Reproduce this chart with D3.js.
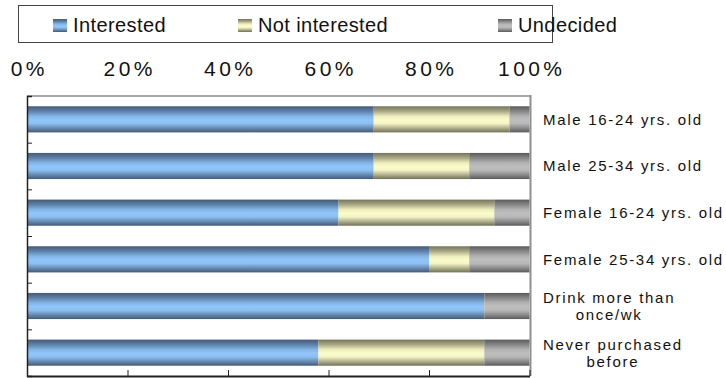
<!DOCTYPE html>
<html>
<head>
<meta charset="utf-8">
<script src="https://cdn.jsdelivr.net/npm/d3@7"></script>
<style>
  html, body { margin: 0; padding: 0; background: #fff; }
  svg { display: block; font-family: "Liberation Sans", Arial, sans-serif; }
</style>
</head>
<body>
<svg id="chart" width="726" height="378"></svg>
<script>
// Survey answers by group (percent of respondents)
const categories = [
  "Male 16-24 yrs. old",
  "Male 25-34 yrs. old",
  "Female 16-24 yrs. old",
  "Female 25-34 yrs. old",
  "Drink more than\nonce/wk",
  "Never purchased\nbefore"
];
const interested    = [69, 69, 62, 80, 91, 58];
const notInterested = [27, 19, 31,  8,  0, 33];
const undecided     = [ 4, 12,  7, 12,  9,  9];
const seriesNames = ["Interested", "Not interested", "Undecided"];
const tickValues = [0, 20, 40, 60, 80, 100];

const svg = d3.select("#chart");

// Shaded "cylinder" fills for each series
const gradients = [
  { id: "g-int", stops: [["0%", "#455b76"], ["18%", "#5c7ea6"], ["38%", "#82b4e6"], ["52%", "#91c6fa"], ["66%", "#8cc0f3"], ["84%", "#6689b0"], ["100%", "#455a74"]] },
  { id: "g-not", stops: [["0%", "#74745a"], ["18%", "#a5a584"], ["38%", "#ececbc"], ["52%", "#fcfccb"], ["66%", "#f4f4c4"], ["84%", "#aeae8c"], ["100%", "#707058"]] },
  { id: "g-und", stops: [["0%", "#5a5a5a"], ["18%", "#848484"], ["38%", "#b2b2b2"], ["52%", "#bebebe"], ["66%", "#b8b8b8"], ["84%", "#8a8a8a"], ["100%", "#5a5a5a"]] }
];
const defs = svg.append("defs");
gradients.forEach(g => {
  const lg = defs.append("linearGradient").attr("id", g.id)
    .attr("x1", 0).attr("y1", 0).attr("x2", 0).attr("y2", 1);
  g.stops.forEach(([o, c]) => lg.append("stop").attr("offset", o).attr("stop-color", c));
});
const fills = gradients.map(g => `url(#${g.id})`);

// Plot geometry
const plotLeft = 27, plotRight = 529.5, plotTop = 96, plotBottom = 376;
const x = d3.scaleLinear().domain([0, 100]).range([plotLeft, plotRight]);
const y = d3.scaleBand().domain(categories).range([plotTop, plotBottom])
  .paddingInner(0.44).paddingOuter(0.22);

// Stack the three series
const rows = categories.map((c, i) => ({
  cat: c, "Interested": interested[i], "Not interested": notInterested[i], "Undecided": undecided[i]
}));
const stacked = d3.stack().keys(seriesNames)(rows);

// Frame: light top and right edges
svg.append("line").attr("x1", plotLeft).attr("x2", plotRight + 1).attr("y1", plotTop).attr("y2", plotTop)
  .attr("stroke", "#a8a8a8").attr("stroke-width", 2);
svg.append("line").attr("x1", plotRight + 1).attr("x2", plotRight + 1).attr("y1", plotTop - 1).attr("y2", plotBottom)
  .attr("stroke", "#909090").attr("stroke-width", 2);

// Bars
stacked.forEach((s, si) => {
  svg.append("g").selectAll("rect").data(s.filter(d => d[1] > d[0])).join("rect")
    .attr("x", d => x(d[0]))
    .attr("width", d => x(d[1]) - x(d[0]))
    .attr("y", d => y(d.data.cat))
    .attr("height", y.bandwidth())
    .attr("fill", fills[si]);
});

// Left axis: ticks at the band boundaries, pointing inward
const yb = d3.scaleLinear().domain([0, categories.length]).range([plotTop, plotBottom]);
const leftAxis = svg.append("g").attr("transform", `translate(${plotLeft},0)`)
  .call(d3.axisRight(yb).tickValues(d3.range(0, categories.length + 1)).tickSize(5).tickFormat(""));
leftAxis.select(".domain").attr("stroke", "#222").attr("stroke-width", 1.5);
leftAxis.selectAll(".tick line").attr("stroke", "#222");

// Bottom axis: ticks pointing up, no labels
const bottomAxis = svg.append("g").attr("transform", `translate(0,${plotBottom})`)
  .call(d3.axisBottom(x).tickValues(tickValues).tickSize(-6).tickSizeOuter(0).tickFormat(""));
bottomAxis.select(".domain").attr("stroke", "#222").attr("stroke-width", 2);
bottomAxis.selectAll(".tick line").attr("stroke", "#222");

// Top axis labels
const topAxis = svg.append("g").attr("transform", `translate(0,76)`)
  .call(d3.axisTop(x).tickValues(tickValues).tickSize(0).tickPadding(0).tickFormat(d => d + "%"));
topAxis.select(".domain").remove();
topAxis.selectAll("text")
  .attr("font-size", 21).attr("fill", "#111")
  .attr("font-family", "'Liberation Sans', Arial, sans-serif")
  .style("letter-spacing", "3.4px")
  .attr("dy", 0).attr("dx", 1.7);

// Category labels on the right
const labelX = 543;
const labelG = svg.append("g");
categories.forEach(c => {
  const lines = c.split("\n");
  const cy = y(c) + y.bandwidth() / 2;
  const texts = lines.map((line, li) => {
    const off = lines.length === 1 ? 0 : (li === 0 ? -8 : 8.5);
    return labelG.append("text")
      .attr("x", labelX).attr("y", cy + off + 5.4)
      .attr("font-size", 15).attr("fill", "#111")
      .style("letter-spacing", "1.7px")
      .text(line);
  });
  const widths = texts.map(t => t.node().getComputedTextLength());
  const maxW = d3.max(widths);
  texts.forEach((t, i) => t.attr("x", labelX + (maxW - widths[i]) / 2));
});

// Legend
const legend = svg.append("g");
legend.append("rect").attr("x", 18.5).attr("y", 5.5).attr("width", 534).attr("height", 37)
  .attr("fill", "#fff").attr("stroke", "#444").attr("stroke-width", 1);
const legendX = [53, 238, 498];
seriesNames.forEach((name, i) => {
  legend.append("rect").attr("x", legendX[i]).attr("y", 19).attr("width", 14).attr("height", 13)
    .attr("fill", fills[i]);
  legend.append("text").attr("x", legendX[i] + 20).attr("y", 31.5)
    .attr("font-size", 20).attr("fill", "#111")
    .style("letter-spacing", "0.4px")
    .text(name);
});
</script>
</body>
</html>
